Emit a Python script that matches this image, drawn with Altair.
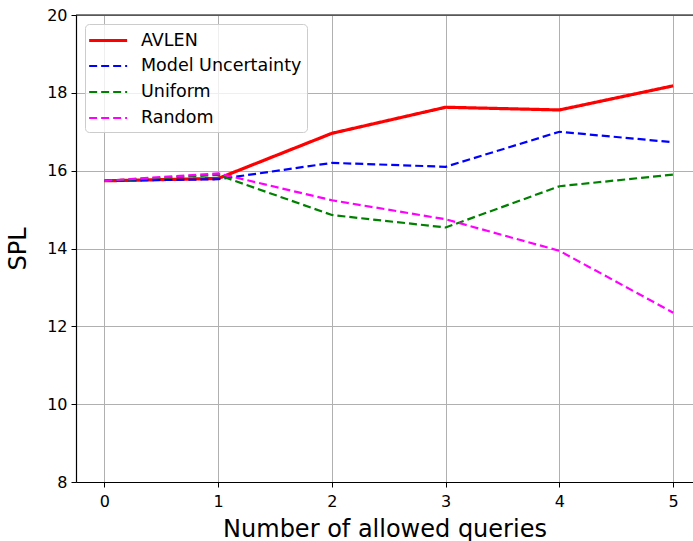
import altair as alt
import pandas as pd

queries = [0, 1, 2, 3, 4, 5]
series_names = ["AVLEN", "Model Uncertainty", "Uniform", "Random"]
avlen = [15.74, 15.80, 16.96, 17.63, 17.56, 18.18]
model_unc = [15.74, 15.78, 16.20, 16.10, 17.00, 16.73]
uniform = [15.74, 15.89, 14.86, 14.54, 15.60, 15.90]
random_q = [15.74, 15.93, 15.24, 14.75, 13.94, 12.35]

colors = ["#ff0000", "#0000ff", "#008000", "#ff00ff"]
dashes = [[1, 0], [8, 4], [8, 4], [8, 4]]
widths = [3.2, 2.2, 2.2, 2.2]

rows = []
for name, vals in zip(series_names, [avlen, model_unc, uniform, random_q]):
    for q, v in zip(queries, vals):
        rows.append({"q": q, "spl": v, "series": name})
df = pd.DataFrame(rows)

W, H = 617, 467
FONT = "DejaVu Sans"

legend = alt.Legend(
    title=None, orient="none", legendX=9, legendY=9,
    symbolType="M-1.3,0H2.7", symbolSize=361, labelOffset=28, labelLimit=400,
    labelFontSize=17.5, labelFont=FONT, labelColor="black",
    fillColor="rgba(255,255,255,0.8)", strokeColor="#cccccc",
    cornerRadius=4, padding=5, rowPadding=6,
)

lines = alt.Chart(df).mark_line().encode(
    x=alt.X("q:Q", scale=alt.Scale(domain=[-0.25, 5.174], nice=False, zero=False),
            axis=alt.Axis(values=queries, format="d", title="Number of allowed queries",
                          titleFontSize=24, titleFont=FONT, titleFontWeight="normal",
                          titleColor="black", titlePadding=8,
                          labelFontSize=16, labelFont=FONT, labelColor="black",
                          labelPadding=6, tickSize=5, tickColor="black",
                          domainColor="black", domainWidth=1.2, gridColor="#b0b0b0",
                          gridWidth=1)),
    y=alt.Y("spl:Q", scale=alt.Scale(domain=[8, 20], nice=False, zero=False),
            axis=alt.Axis(values=[8, 10, 12, 14, 16, 18, 20], title="SPL",
                          titleFontSize=24, titleFont=FONT, titleFontWeight="normal",
                          titleColor="black", titlePadding=16,
                          labelFontSize=16, labelFont=FONT, labelColor="black",
                          labelPadding=4, tickSize=5, tickColor="black",
                          domainColor="black", domainWidth=1.2, gridColor="#b0b0b0",
                          gridWidth=1)),
    color=alt.Color("series:N", scale=alt.Scale(domain=series_names, range=colors),
                    sort=series_names, legend=legend),
    strokeDash=alt.StrokeDash("series:N", scale=alt.Scale(domain=series_names, range=dashes),
                              sort=series_names, legend=legend),
    strokeWidth=alt.StrokeWidth("series:N",
                                scale=alt.Scale(type="ordinal", domain=series_names, range=widths),
                                sort=series_names, legend=legend),
    order=alt.Order("series:N"),
)

top = alt.Chart(pd.DataFrame({"a": [0]})).mark_rule(color="black", strokeWidth=1.2).encode(
    x=alt.value(0), x2=alt.value(W), y=alt.value(0)
)

chart = alt.layer(lines, top).properties(
    width=W, height=H,
    autosize=alt.AutoSizeParams(type="none"),
    padding={"left": 76, "top": 15, "right": 0, "bottom": 59},
).configure_view(stroke=None).configure(background="white")

chart.save("out.html", embed_options={"renderer": "svg", "actions": False})
